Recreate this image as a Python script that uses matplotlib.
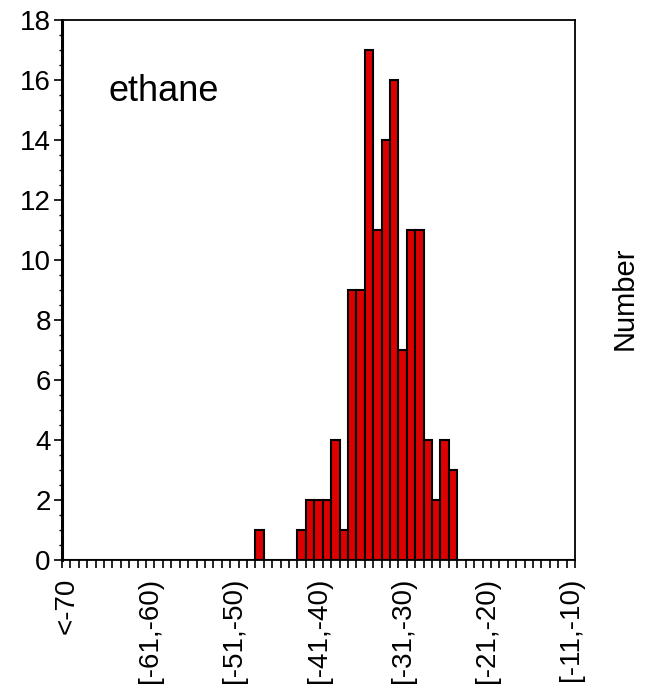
import matplotlib.pyplot as plt
from matplotlib.ticker import MultipleLocator, FixedLocator

# bins: "<-70", then [-70,-69) ... [-11,-10)
bin_labels = ["<-70"] + ["[%d,%d)" % (lo, lo + 1) for lo in range(-70, -10)]
# counts per bin (only non-zero bins listed, index -> count)
nonzero_idx = [23, 28, 29, 30, 31, 32, 33, 34, 35, 36, 37, 38, 39, 40, 41, 42, 43, 44, 45, 46]
nonzero_cnt = [1, 1, 2, 2, 2, 4, 1, 9, 9, 17, 11, 14, 16, 7, 11, 11, 4, 2, 4, 3]
label_every = 10
panel_name = "ethane"

counts = [0] * len(bin_labels)
for i, c in zip(nonzero_idx, nonzero_cnt):
    counts[i] = c

plt.rcParams['font.family'] = ['Liberation Sans', 'DejaVu Sans']

fig = plt.figure(figsize=(6.52, 7.0), dpi=100)
ax = fig.add_axes([0.095, 0.2, 0.787, 0.771])

pos = list(range(len(bin_labels)))
ax.bar(pos, counts, width=1.0, color='#dd0000', edgecolor='black', linewidth=1.5)

ax.set_xlim(-0.5, len(bin_labels) - 0.5)
ax.set_ylim(0, 18)

# major x ticks: labels only, every 10 bins
major_pos = pos[::label_every]
ax.xaxis.set_major_locator(FixedLocator(major_pos))
ax.set_xticklabels([bin_labels[i] for i in major_pos], rotation=90, fontsize=20)
ax.xaxis.set_minor_locator(FixedLocator([p - 0.5 for p in pos] + [pos[-1] + 0.5]))
ax.tick_params(axis='x', which='major', length=0, pad=13)
ax.tick_params(axis='x', which='minor', length=6, width=1.2, direction='out')

ax.yaxis.set_major_locator(MultipleLocator(2))
ax.yaxis.set_minor_locator(MultipleLocator(0.5))
ax.tick_params(axis='y', which='major', length=6, width=1.2, labelsize=20, pad=2)
ax.tick_params(axis='y', which='minor', length=2.5, width=1.0)

for s in ['top', 'right', 'bottom']:
    ax.spines[s].set_linewidth(1.3)
ax.spines['left'].set_linewidth(2.2)

ax.text(0.09, 0.85, panel_name, transform=ax.transAxes, fontsize=26)
fig.text(0.958, 0.574, "Number", rotation=90, fontsize=21, ha='center', va='center')

fig.savefig("out.png", dpi=100)
